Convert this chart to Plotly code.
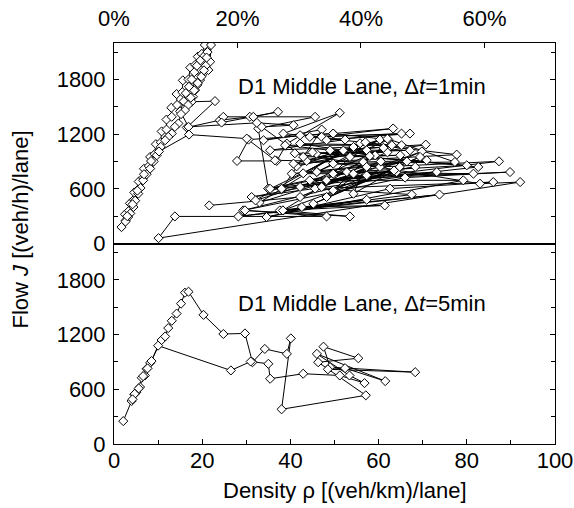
import plotly.graph_objects as go

# ---- 1-minute data, D1 middle lane: (density [veh/km/lane], flow [veh/h/lane]) ----
morning_rise_1min = [
    (1.7, 180), (2.6, 250), (2.5, 320), (3.4, 360), (3.6, 440), (4.5, 480),
    (4.6, 560), (5.6, 600), (5.6, 680), (6.6, 720), (6.8, 820), (7.9, 850),
    (8.2, 950), (9.2, 980), (9.5, 1090), (10.6, 1110), (10.8, 1230),
    (11.9, 1250), (11.9, 1360), (13.1, 1390), (13.0, 1490), (14.3, 1520),
    (14.2, 1640), (15.5, 1660), (15.6, 1790), (16.9, 1800), (17.3, 1930),
    (18.4, 1960), (19.0, 2050), (19.9, 2080), (20.6, 2178), (22.0, 2178),
    (21.8, 1995), (21.4, 1903), (20.8, 1950), (20.0, 1850), (19.5, 1793),
    (18.9, 1740), (18.4, 1683), (17.9, 1610), (17.6, 1555), (22.9, 1562),
    (16.5, 1273),
]
congested_a_1min = [
    (24.0, 1353), (30.8, 1390), (24.8, 1390), (24.4, 1327), (37.2, 1445),
    (31.6, 1390), (45.6, 1390), (32.7, 1261), (35.0, 602), (38.0, 594),
    (47.1, 1250), (33.9, 1133), (42.2, 1188), (49.7, 1206), (30.5, 1140),
    (27.9, 906), (36.9, 906), (39.2, 1096), (51.2, 1434), (38.4, 1206),
    (52.4, 1140), (35.4, 1023), (54.3, 1059), (43.7, 906), (57.3, 1023),
    (41.4, 847), (60.3, 1140), (46.0, 785), (62.2, 1140), (49.7, 1206),
    (63.3, 1262), (47.1, 1170), (65.2, 1206), (48.2, 1133), (67.1, 1206),
    (44.4, 1170), (63.0, 1078), (42.2, 1096), (59.2, 968), (38.8, 1078),
    (65.2, 1078), (45.9, 986), (67.1, 1023), (49.0, 1023), (70.7, 1085),
    (53.5, 950), (64.9, 968), (42.9, 950), (33.5, 1280), (40.7, 1298),
    (32.4, 1324), (16.9, 1280),
]
midday_1min = [
    (15.0, 1450), (15.8, 1560), (16.3, 1650), (17.0, 1720), (17.6, 1800),
    (18.2, 1880), (18.8, 1950), (19.6, 2010), (20.5, 2060), (21.2, 2100),
    (21.0, 2040), (20.4, 1900), (19.8, 1830), (19.0, 1760), (18.2, 1680),
    (17.4, 1600), (16.8, 1520),
]
recovery_1min = [
    (16.1, 1463), (15.2, 1420), (14.6, 1317), (13.8, 1280), (13.1, 1207),
    (12.3, 1170), (11.6, 1133), (10.6, 1060), (9.7, 968), (9.0, 900),
    (8.2, 822), (7.4, 760), (6.6, 693), (6.0, 610), (5.5, 547), (4.8, 470),
    (4.4, 400), (3.7, 330), (3.2, 290), (2.6, 240), (3.0, 300), (4.2, 430),
    (5.3, 580), (6.8, 760), (8.4, 905), (10.2, 1010), (17.0, 1195),
]
congested_b_1min = [
    (30.1, 1151), (36.5, 913), (56.5, 894), (70.9, 913), (42.9, 770),
    (55.8, 1100), (77.7, 975), (40.7, 876), (62.0, 1150), (77.3, 894),
    (49.7, 876), (60.3, 840), (87.3, 902), (35.0, 602), (52.8, 784),
    (80.0, 858), (45.0, 1000), (82.6, 840), (38.0, 601), (68.3, 840),
    (48.2, 693), (73.2, 784), (31.2, 510), (57.3, 748), (81.5, 766),
    (46.0, 785), (64.1, 784), (29.3, 363), (66.0, 723), (89.8, 784),
    (44.4, 693), (79.2, 693), (34.6, 290), (62.6, 602), (86.0, 674),
    (45.6, 602), (67.5, 537), (28.2, 297), (73.8, 537), (38.3, 363),
    (61.4, 418), (42.6, 400), (57.3, 480), (37.6, 363), (53.5, 297),
    (29.7, 363), (48.2, 297), (13.8, 297), (10.1, 59), (92.1, 674),
]
congested_c_1min = [
    (83.0, 656), (41.0, 990), (62.0, 1000), (49.7, 766), (57.0, 1110),
    (35.4, 600), (66.4, 900), (40.3, 766), (54.3, 766), (33.0, 450),
    (52.0, 1020), (32.1, 473), (60.5, 900), (47.1, 620), (69.8, 1010),
    (49.7, 583), (58.0, 960), (54.3, 546), (63.5, 800), (42.2, 620),
    (61.1, 1050), (38.3, 363), (64.8, 840), (45.2, 436), (69.4, 950),
    (48.2, 510), (57.3, 840), (42.2, 510), (21.6, 418),
]

# ---- 5-minute data, same detector ----
rise_5min = [
    (2.1, 251), (4.0, 472), (4.6, 545), (5.1, 570), (5.9, 625), (6.3, 727),
    (7.0, 752), (7.4, 825), (8.2, 890), (10.8, 1141), (11.6, 1180),
    (12.3, 1272), (13.1, 1352), (14.2, 1431), (15.2, 1540), (16.1, 1660),
    (16.9, 1671),
]
congested_5min = [
    (20.3, 1417), (24.8, 1207), (29.7, 1213), (31.4, 897), (34.2, 1043),
    (39.2, 989), (40.1, 1159), (38.0, 381), (57.1, 534), (46.3, 897),
    (55.4, 941), (47.5, 1068), (49.0, 843), (68.3, 788), (48.5, 820),
    (52.4, 832), (61.5, 690), (46.0, 989), (53.4, 752), (56.8, 668),
    (51.2, 752), (42.9, 771), (35.4, 716), (35.0, 880), (31.0, 905),
    (26.5, 807),
]
decline_5min = [
    (10.0, 1079), (8.5, 910), (7.6, 830), (6.6, 745), (5.6, 610),
    (4.7, 550), (4.2, 490),
]

# Axis ticks
flow_ticks = [0, 600, 1200, 1800]
density_ticks = [0, 20, 40, 60, 80, 100]
occupancy_percent = [0, 20, 40, 60]
rho_jam = 140.0          # density corresponding to 100 % occupancy

panel_labels = ["D1 Middle Lane, \u0394<i>t</i>=1min",
                "D1 Middle Lane, \u0394<i>t</i>=5min"]

FONT = "Liberation Sans, Arial, Helvetica, sans-serif"
FS = 22


def unzip(*segments):
    pts = [p for seg in segments for p in seg]
    return [p[0] for p in pts], [p[1] for p in pts]


x1, y1 = unzip(morning_rise_1min, congested_a_1min, midday_1min,
               recovery_1min, congested_b_1min, congested_c_1min)
x5, y5 = unzip(rise_5min, congested_5min, decline_5min)

marker = dict(symbol="diamond", size=7, color="white",
              line=dict(color="black", width=1))
line = dict(color="black", width=1)

fig = go.Figure()
fig.add_trace(go.Scatter(x=x1, y=y1, mode="lines+markers", marker=marker,
                         line=line, xaxis="x", yaxis="y", showlegend=False))
fig.add_trace(go.Scatter(x=x5, y=y5, mode="lines+markers", marker=marker,
                         line=line, xaxis="x2", yaxis="y2", showlegend=False))

tickfont = dict(family=FONT, size=FS, color="black")
common_y = dict(range=[0, 2200], tickvals=flow_ticks, ticks="inside",
                ticklen=5, tickcolor="black", showline=True, linecolor="black",
                linewidth=1, mirror="ticks", showgrid=False, zeroline=False,
                tickfont=tickfont, automargin=False, ticklabelstandoff=3,
                minor=dict(dtick=300, ticks="inside", ticklen=4,
                           tickcolor="black", showgrid=False))

fig.update_layout(
    width=574, height=508,
    margin=dict(l=114, r=19, t=43, b=64),
    paper_bgcolor="white", plot_bgcolor="white",
    font=dict(family=FONT, size=FS, color="black"),
    xaxis=dict(domain=[0, 1], range=[0, 100], side="top", anchor="y",
               tickvals=[p / 100 * rho_jam for p in occupancy_percent],
               ticktext=[f"{p}%" for p in occupancy_percent],
               ticks="inside", ticklen=5, tickcolor="black",
               showline=True, linecolor="black", linewidth=1, mirror=True,
               showgrid=False, zeroline=False, tickfont=tickfont,
               ticklabelstandoff=7, automargin=False),
    yaxis=dict(domain=[0.5, 1], anchor="x", **common_y),
    xaxis2=dict(domain=[0, 1], range=[0, 100], anchor="y2",
                tickvals=density_ticks, ticks="inside", ticklen=5,
                tickcolor="black", showline=True, linecolor="black",
                linewidth=1, mirror=True, showgrid=False, zeroline=False,
                tickfont=tickfont, automargin=False, ticklabelstandoff=-3,
                minor=dict(dtick=10, ticks="inside", ticklen=4,
                           tickcolor="black", showgrid=False)),
    yaxis2=dict(domain=[0, 0.5], anchor="x2", **common_y),
    annotations=[
        dict(text=panel_labels[0], x=56.2, y=1727, xref="x", yref="y",
             showarrow=False, font=dict(family=FONT, size=FS)),
        dict(text=panel_labels[1], x=56.2, y=1542, xref="x2", yref="y2",
             showarrow=False, font=dict(family=FONT, size=FS)),
        dict(text="Flow <i>J</i> [(veh/h)/lane]", textangle=-90,
             x=-0.213, y=0.535, xref="paper", yref="paper",
             xanchor="center", yanchor="middle", showarrow=False,
             font=dict(family=FONT, size=FS)),
        dict(text="Density \u03c1 [(veh/km)/lane]",
             x=0.524, y=-0.117, xref="paper", yref="paper",
             xanchor="center", yanchor="middle", showarrow=False,
             font=dict(family=FONT, size=FS)),
    ],
)

fig.write_html("out.html")
